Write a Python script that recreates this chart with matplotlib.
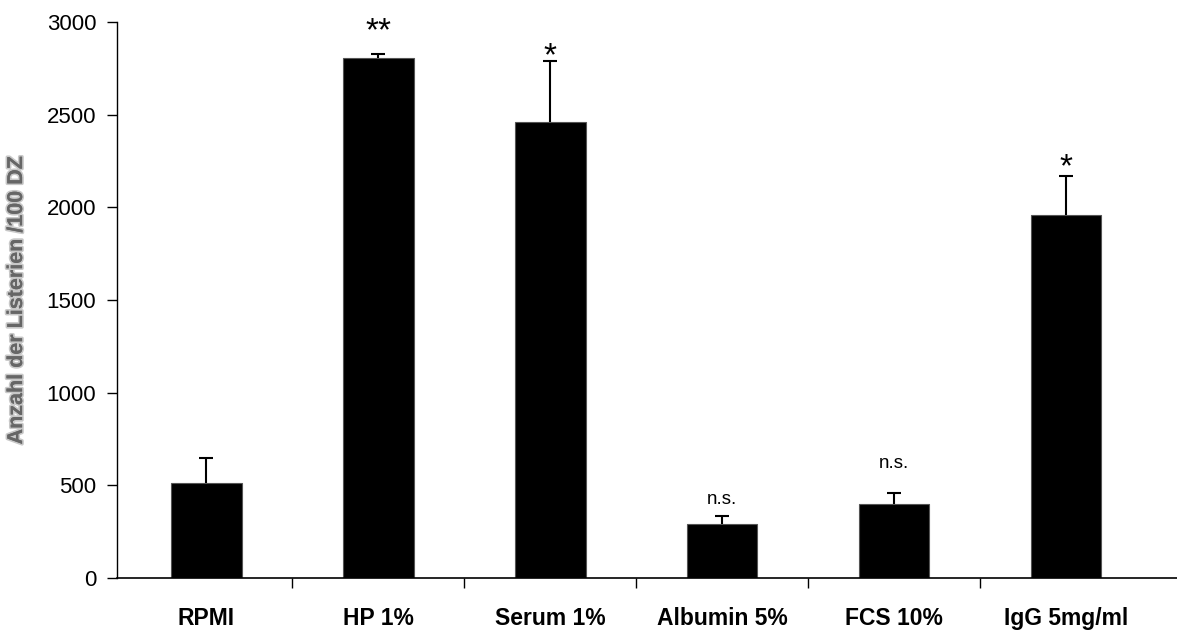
import matplotlib.pyplot as plt
import matplotlib.patheffects as pe
from matplotlib.ticker import FixedLocator

plt.rcParams['font.family'] = ['Liberation Sans', 'DejaVu Sans']

# mean counts and standard deviation per condition
conditions = ['RPMI', 'HP 1%', 'Serum 1%', 'Albumin 5%', 'FCS 10%', 'IgG 5mg/ml']
means = [514, 2804, 2462, 290, 401, 1959]
errors = [132, 22, 326, 46, 60, 212]
significance = ['', '**', '*', 'n.s.', 'n.s.', '*']
label_heights = [0, 2950, 2815, 425, 620, 2215]

fig = plt.figure(figsize=(11.77, 6.31), dpi=100)
ax = fig.add_axes([0.0994, 0.084, 0.9006, 0.881])

x = list(range(len(conditions)))
ax.bar(x, means, width=0.41, color='black', edgecolor='#555555', linewidth=0.8)
_, caps, _ = ax.errorbar(x, means, yerr=[[0] * len(errors), errors], fmt='none',
                         ecolor='black', elinewidth=1.5, capsize=5, capthick=1.5)
caps[0].set_visible(False)  # only the upper whisker is drawn

for xi, mark, h in zip(x, significance, label_heights):
    if not mark:
        continue
    if mark.startswith('*'):
        ax.text(xi, h, mark, ha='center', va='center', fontsize=24)
    else:
        ax.text(xi, h, mark, ha='center', va='center', fontsize=13.5)

ax.set_ylim(0, 3000)
ax.set_xlim(-0.52, 5.645)
ax.set_yticks(range(0, 3001, 500))
ax.tick_params(axis='y', direction='out', length=7, width=1, labelsize=16, pad=8)

ax.set_xticks(x)
ax.set_xticklabels(conditions, fontsize=16.5, fontweight='bold')
ax.tick_params(axis='x', which='major', length=0, pad=21)
ax.xaxis.set_minor_locator(FixedLocator([0.5, 1.5, 2.5, 3.5, 4.5]))
ax.tick_params(axis='x', which='minor', direction='out', length=7, width=1)

for side in ['top', 'right']:
    ax.spines[side].set_visible(False)
ax.spines['left'].set_linewidth(1)
ax.spines['bottom'].set_linewidth(1.2)

ylab = ax.set_ylabel('Anzahl der Listerien /100 DZ', fontsize=15.5, fontweight='bold',
                     color='#666666', labelpad=14)
ylab.set_path_effects([pe.withStroke(linewidth=2.5, foreground='#c8c8c8'), pe.Normal()])

fig.savefig('out.png', dpi=100)
